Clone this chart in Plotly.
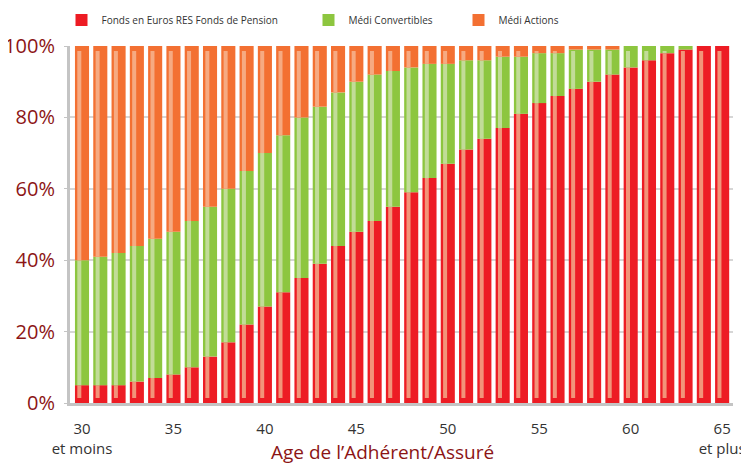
import plotly.graph_objects as go
import numpy as np

ages = list(range(30, 66))
fonds_euros = [5, 5, 5, 6, 7, 8, 10, 13, 17, 22, 27, 31, 35, 39, 44, 48, 51, 55, 59, 63,
               67, 71, 74, 77, 81, 84, 86, 88, 90, 92, 94, 96, 98, 99, 100, 100]
medi_convertibles = [35, 36, 37, 38, 39, 40, 41, 42, 43, 43, 43, 44, 45, 44, 43, 42, 41, 38, 35, 32,
                     28, 25, 22, 20, 16, 14, 12, 11, 9, 7, 6, 4, 2, 1, 0, 0]
medi_actions = [100 - a - b for a, b in zip(fonds_euros, medi_convertibles)]

tick_vals = [30, 35, 40, 45, 50, 55, 60, 65]
tick_text = ["30<br>et moins", "35", "40", "45", "50", "55", "60", "65<br>et plus"]

series = [
    ("Fonds en Euros RES Fonds de Pension", fonds_euros, "#ED1C24", "#F29479", "legend"),
    ("Médi Convertibles", medi_convertibles, "#8DC63F", "#C2DC98", "legend2"),
    ("Médi Actions", medi_actions, "#F37032", "#F6AA82", "legend3"),
]

FONT = "Open Sans"
fig = go.Figure()

cum = np.zeros(len(ages))
lo_clip, hi_clip = 1.4, 98.6
for name, vals, col, light, lg in series:
    v = np.array(vals, dtype=float)
    fig.add_trace(go.Bar(
        x=ages, y=v, base=cum, name=name, marker=dict(color=col, line=dict(width=0)),
        width=0.77, legend=lg, hoverinfo="skip"))
    sb = np.clip(cum, lo_clip, hi_clip)
    st = np.clip(cum + v, lo_clip, hi_clip)
    fig.add_trace(go.Bar(
        x=ages, y=st - sb, base=sb, marker=dict(color=light, line=dict(width=0)),
        width=0.22, offset=-0.257, showlegend=False, hoverinfo="skip"))
    cum = cum + v

# page body has an 8px margin: figure spans page px 8..749 x 8..463
W, H = 741, 455
fig.update_layout(
    width=W, height=H,
    margin=dict(l=62, r=16, t=38, b=60, autoexpand=False),
    paper_bgcolor="white", plot_bgcolor="white",
    barmode="overlay",
    font=dict(family=FONT, color="#333333"),
    xaxis=dict(range=[29.344, 65.594], tickvals=tick_vals, ticktext=tick_text,
               tickfont=dict(size=15, color="#333333"), showgrid=False, zeroline=False,
               showline=True, linecolor="#C4C4C4", linewidth=3, ticks="",
               ticklabelstandoff=10, automargin=False),
    yaxis=dict(range=[0, 100], tickvals=[0, 20, 40, 60, 80, 100],
               ticktext=["0%", "20%", "40%", "60%", "80%", "100%"],
               tickfont=dict(size=20, color="#8C1515"), showgrid=True,
               gridcolor="#D6D6D6", gridwidth=2, zeroline=False,
               showline=True, linecolor="#C4C4C4", linewidth=3,
               ticks="outside", ticklen=3, tickcolor="#C4C4C4",
               ticklabelstandoff=5, automargin=False),
    showlegend=True,
)

leg_common = dict(orientation="h", yanchor="middle", y=1 - 12 / H, yref="container",
                  xref="container", xanchor="left",
                  font=dict(size=10, color="#333333", family=FONT),
                  bgcolor="rgba(0,0,0,0)", borderwidth=0)
fig.update_layout(
    legend=dict(x=53.5 / W, **leg_common),
    legend2=dict(x=300.5 / W, **leg_common),
    legend3=dict(x=450.5 / W, **leg_common),
)

fig.add_annotation(text="Age de l\u2019Adhérent/Assuré", xref="paper", yref="paper",
                   x=0.4706, y=-0.136, xanchor="center", yanchor="middle",
                   showarrow=False, font=dict(size=19, color="#8C1515", family=FONT))

fig.write_html("out.html")
